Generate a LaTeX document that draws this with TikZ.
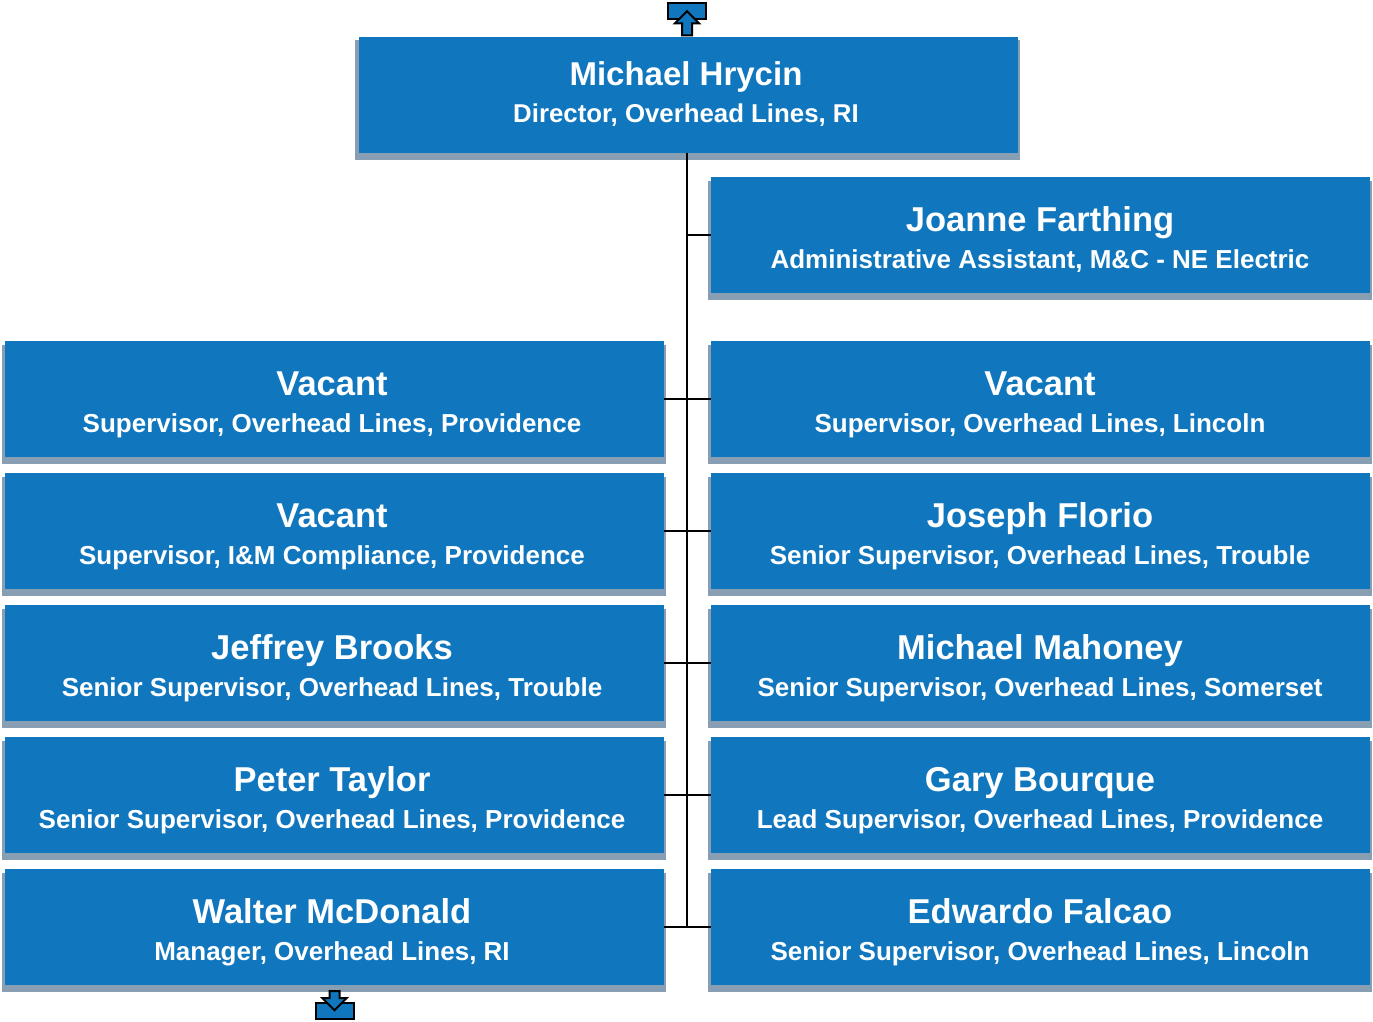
\documentclass[tikz,border=0pt]{standalone}
\usepackage{fontspec}
\setmainfont{Liberation Sans}
\usetikzlibrary{backgrounds,calc}
\definecolor{boxblue}{RGB}{16,119,190}
\definecolor{shadegray}{RGB}{136,158,178}
\tikzset{
  orgbox/.style={rectangle, fill=boxblue, minimum width=659pt, minimum height=116pt, inner sep=0pt},
  nametext/.style={anchor=base, text=white, inner sep=0pt, font=\fontsize{34.5}{37}\selectfont\bfseries},
  topname/.style={nametext, font=\fontsize{33}{36}\selectfont\bfseries},
  roletext/.style={anchor=base, text=white, inner sep=0pt, font=\fontsize{26}{28}\selectfont\bfseries},
  toprole/.style={roletext, font=\fontsize{25.8}{28}\selectfont\bfseries},
  trunk/.style={draw=black, line width=2pt},
  branch/.style={draw=black, line width=1.6pt},
  icon/.style={draw=black, fill=boxblue, line width=2pt, line join=miter}
}
\newcommand{\shadebox}[1]{\fill[shadegray] ([xshift=-3pt,yshift=-4pt]#1.north west) rectangle ([xshift=2pt,yshift=-7pt]#1.south east);}
\begin{document}
\begin{tikzpicture}[x=1pt,y=-1pt]
\useasboundingbox (0,0) rectangle (1373,1021);
% boxes
\node[orgbox] (top) at (688,94.5) {};
\node[orgbox] (jo) at (1040.5,235) {};
\node[orgbox] (l1) at (334.5,399) {};
\node[orgbox] (r1) at (1040.5,399) {};
\node[orgbox] (l2) at (334.5,531) {};
\node[orgbox] (r2) at (1040.5,531) {};
\node[orgbox] (l3) at (334.5,663) {};
\node[orgbox] (r3) at (1040.5,663) {};
\node[orgbox] (l4) at (334.5,795) {};
\node[orgbox] (r4) at (1040.5,795) {};
\node[orgbox] (l5) at (334.5,927) {};
\node[orgbox] (r5) at (1040.5,927) {};
\begin{scope}[on background layer]
\foreach \b in {top,jo,l1,r1,l2,r2,l3,r3,l4,r4,l5,r5} {\shadebox{\b}}
\end{scope}
% texts
\node[topname] (topn) at (686,85) {Michael Hrycin};
\node[toprole] (topr) at (686,122) {Director, Overhead Lines, RI};
\node[nametext] (jon) at (1040,231) {Joanne Farthing};
\node[roletext] (jor) at (1040,268) {Administrative Assistant, M\&C - NE Electric};
\node[nametext] (l1n) at (332,395) {Vacant};
\node[roletext] (l1r) at (332,432) {Supervisor, Overhead Lines, Providence};
\node[nametext] (r1n) at (1040,395) {Vacant};
\node[roletext] (r1r) at (1040,432) {Supervisor, Overhead Lines, Lincoln};
\node[nametext] (l2n) at (332,527) {Vacant};
\node[roletext] (l2r) at (332,564) {Supervisor, I\&M Compliance, Providence};
\node[nametext] (r2n) at (1040,527) {Joseph Florio};
\node[roletext] (r2r) at (1040,564) {Senior Supervisor, Overhead Lines, Trouble};
\node[nametext] (l3n) at (332,659) {Jeffrey Brooks};
\node[roletext] (l3r) at (332,696) {Senior Supervisor, Overhead Lines, Trouble};
\node[nametext] (r3n) at (1040,659) {Michael Mahoney};
\node[roletext] (r3r) at (1040,696) {Senior Supervisor, Overhead Lines, Somerset};
\node[nametext] (l4n) at (332,791) {Peter Taylor};
\node[roletext] (l4r) at (332,828) {Senior Supervisor, Overhead Lines, Providence};
\node[nametext] (r4n) at (1040,791) {Gary Bourque};
\node[roletext] (r4r) at (1040,828) {Lead Supervisor, Overhead Lines, Providence};
\node[nametext] (l5n) at (332,923) {Walter McDonald};
\node[roletext] (l5r) at (332,960) {Manager, Overhead Lines, RI};
\node[nametext] (r5n) at (1040,923) {Edwardo Falcao};
\node[roletext] (r5r) at (1040,960) {Senior Supervisor, Overhead Lines, Lincoln};
% connectors
\begin{scope}[on background layer]
\draw[trunk] ([xshift=-1pt]top.south) -- ([xshift=-1pt]top.south |- l5.east);
\draw[branch] ([xshift=-1pt]top.south |- jo.west) -- (jo.west);
\foreach \i in {1,...,5} {\draw[branch] (l\i.east) -- (r\i.west);}
\end{scope}
% up icon
\coordinate (upc) at ([xshift=-1pt]top.north);
\draw[icon] ($(upc)+(-19,-33)$) rectangle ($(upc)+(19,-17)$);
\draw[icon] ($(upc)+(0,-25)$) -- ($(upc)+(12,-13)$) -- ($(upc)+(5,-13)$) -- ($(upc)+(5,-1)$) -- ($(upc)+(-5,-1)$) -- ($(upc)+(-5,-13)$) -- ($(upc)+(-12,-13)$) -- cycle;
% down icon
\coordinate (dnc) at ([yshift=-7pt]l5.south);
\draw[icon] ($(dnc)+(-19,11)$) rectangle ($(dnc)+(19,27)$);
\draw[icon] ($(dnc)+(0,18)$) -- ($(dnc)+(12,6)$) -- ($(dnc)+(5,6)$) -- ($(dnc)+(5,-1)$) -- ($(dnc)+(-5,-1)$) -- ($(dnc)+(-5,6)$) -- ($(dnc)+(-12,6)$) -- cycle;
\end{tikzpicture}
\end{document}
